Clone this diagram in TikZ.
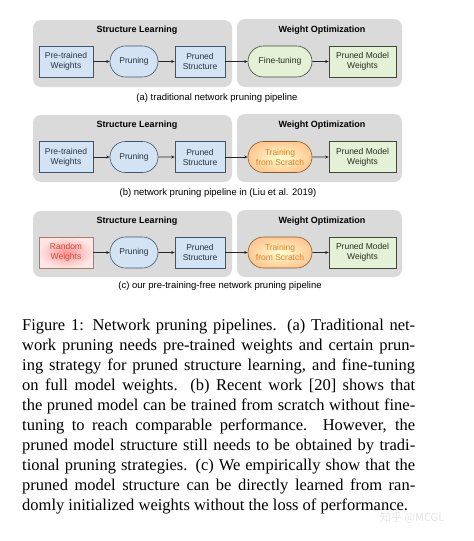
\documentclass[tikz,border=0pt]{standalone}
\usepackage{fontspec}
\setmainfont{Liberation Serif}
\newfontfamily\arial{Liberation Sans}
\newfontfamily\cjk{Noto Sans CJK SC}
\usetikzlibrary{shapes.misc,arrows.meta}
\definecolor{panelgray}{HTML}{DADADA}
\definecolor{bluefill}{HTML}{D3E3F3}
\definecolor{blueedge}{HTML}{3C5670}
\definecolor{greenfill}{HTML}{E4F1D6}
\definecolor{greenedge}{HTML}{3E4A34}
\definecolor{orangetext}{HTML}{D9822B}
\definecolor{redtext}{HTML}{C44A36}
\tikzset{
  panel/.style={fill=panelgray, rounded corners=8pt, draw=none},
  title/.style={font=\arial\bfseries\fontsize{9}{10}\selectfont, inner sep=0pt},
  subcap/.style={font=\arial\fontsize{9.5}{11}\selectfont, inner sep=0pt},
  box/.style={draw, line width=0.6pt, minimum height=31pt, inner sep=1pt, align=center,
    font=\arial\fontsize{8.5}{10}\selectfont},
  bluebox/.style={box, fill=bluefill, draw=blueedge, text=blueedge!60!black},
  greenbox/.style={box, fill=greenfill, draw=greenedge, text=greenedge!60!black},
  stadium/.style={box, rounded rectangle},
  bluestad/.style={stadium, fill=bluefill, draw=blueedge, text=blueedge!60!black},
  greenstad/.style={stadium, fill=greenfill, draw=greenedge, text=greenedge!60!black},
  orangestad/.style={stadium, inner color=yellow!18, outer color=orange!42, draw=brown!70!black, text=orangetext},
  redbox/.style={box, inner color=red!42!white, outer color=red!10!white, draw=brown!60!gray, text=redtext},
  conn/.style={-{Stealth[length=3.5pt,width=3pt]}, line width=0.6pt, black!85},
}
\begin{document}
\begin{tikzpicture}[x=1pt,y=-1pt]
\useasboundingbox[fill=white] (0,0) rectangle (474,541);
% ---------- panel (a)
\fill[panel] (33,20) rectangle (232,87);
\fill[panel] (237,19) rectangle (402,87);
\node[title] (at1) at (137,30) {Structure Learning};
\node[title] (aw1) at (322,30) {Weight Optimization};
\node[bluebox, minimum width=54pt] (a1) at (66,61.5) {Pre-trained\\Weights};
\node[bluestad, minimum width=50pt] (a2) at (134,61.5) {Pruning};
\node[bluebox, minimum width=50pt] (a3) at (200,61.5) {Pruned\\Structure};
\node[greenstad, minimum width=66pt] (a4) at (280,61.5) {Fine-tuning};
\node[greenbox, minimum width=67pt] (a5) at (362.5,61.5) {Pruned Model\\Weights};
\draw[conn] (a1) -- (a2);
\draw[conn] (a2) -- (a3);
\draw[conn] (a3) -- (a4);
\draw[conn] (a4) -- (a5);
\node[subcap] (ac) at (217,98) {(a) traditional network pruning pipeline};
% ---------- panel (b)
\fill[panel] (33,115) rectangle (232,182);
\fill[panel] (237,114) rectangle (402,182);
\node[title] (bt1) at (137,125) {Structure Learning};
\node[title] (bw1) at (322,125) {Weight Optimization};
\node[bluebox, minimum width=54pt] (b1) at (66,157) {Pre-trained\\Weights};
\node[bluestad, minimum width=50pt] (b2) at (134,157) {Pruning};
\node[bluebox, minimum width=50pt] (b3) at (200,157) {Pruned\\Structure};
\node[orangestad, minimum width=66pt] (b4) at (280,157) {Training\\from Scratch};
\node[greenbox, minimum width=67pt] (b5) at (362.5,157) {Pruned Model\\Weights};
\draw[conn] (b1) -- (b2);
\draw[conn] (b2) -- (b3);
\draw[conn] (b3) -- (b4);
\draw[conn] (b4) -- (b5);
\node[subcap] (bc) at (218,193) {(b) network pruning pipeline in (Liu et al. 2019)};
% ---------- panel (c)
\fill[panel] (33,211) rectangle (232,277);
\fill[panel] (237,210) rectangle (402,277);
\node[title] (ct1) at (137,221) {Structure Learning};
\node[title] (cw1) at (322,221) {Weight Optimization};
\node[redbox, minimum width=54pt] (c1) at (66,252.5) {Random\\Weights};
\node[bluestad, minimum width=50pt] (c2) at (134,252.5) {Pruning};
\node[bluebox, minimum width=50pt] (c3) at (200,252.5) {Pruned\\Structure};
\node[orangestad, minimum width=66pt] (c4) at (280,252.5) {Training\\from Scratch};
\node[greenbox, minimum width=67pt] (c5) at (362.5,252.5) {Pruned Model\\Weights};
\draw[conn] (c1) -- (c2);
\draw[conn] (c2) -- (c3);
\draw[conn] (c3) -- (c4);
\draw[conn] (c4) -- (c5);
\node[subcap] (cc) at (220,286) {(c) our pre-training-free network pruning pipeline};
% ---------- figure caption
\node[anchor=north west, inner sep=0pt, text width=393pt, align=justify,
      font=\fontsize{16.5}{20}\selectfont] (cap) at (22,319) {%
Figure 1: Network pruning pipelines. (a) Traditional net-\linebreak
work pruning needs pre-trained weights and certain prun-\linebreak
ing strategy for pruned structure learning, and fine-tuning\linebreak
on full model weights. (b) Recent work [20] shows that\linebreak
the pruned model can be trained from scratch without fine-\linebreak
tuning to reach comparable performance. However, the\linebreak
pruned model structure still needs to be obtained by tradi-\linebreak
tional pruning strategies. (c) We empirically show that the\linebreak
pruned model structure can be directly learned from ran-\linebreak
domly initialized weights without the loss of performance.};
\node[font=\cjk\fontsize{11}{12}\selectfont, text=black!10, anchor=west, inner sep=0pt] (wm) at (380,518) {知乎 @MCGL};
\end{tikzpicture}
\end{document}
